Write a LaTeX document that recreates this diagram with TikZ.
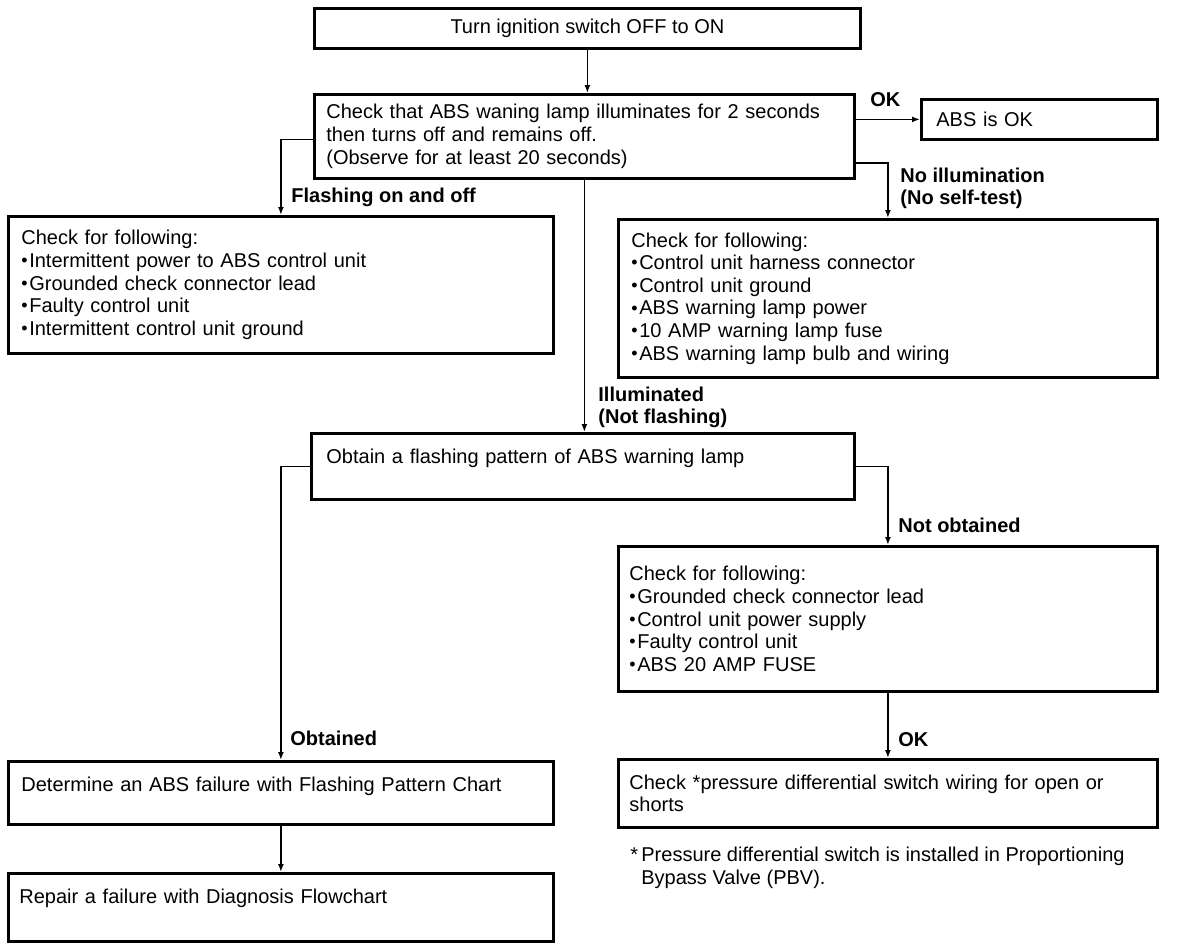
\documentclass[tikz,border=0pt]{standalone}
\usepackage{fontspec}
\setmainfont{Liberation Sans}
\usepackage{graphicx}
\usetikzlibrary{arrows.meta}
\newcommand{\itm}{\raisebox{.4pt}{\scalebox{.9}{\textbullet}}\kern.8pt}

\begin{document}
\begin{tikzpicture}[x = .5pt, y = -.5pt,
	every node/.style = {font = \fontsize{10}{11.3}\selectfont, inner sep = 0},
	box/.style = {draw, line width = 1.4pt, anchor = north west, align = left},
	lbl/.style = {font = \fontsize{10}{11}\selectfont\bfseries, align = left},
	arr/.style = {line width = .9pt, -{Latex[length = 4pt, width = 3pt]}}]
	\useasboundingbox (0,0) rectangle (1184,948);
	\node[box, minimum width = 273pt, minimum height = 20pt] (ign) at (313,7) {Turn ignition switch OFF to ON};
	\node[box, minimum width = 270pt, minimum height = 42pt, text width = 258pt, inner xsep = 6pt] (lamp) at (313,93)
		{Check that ABS waning lamp illuminates for 2 seconds\\then turns off and remains off.\\(Observe for at least 20 seconds)};
	\node[box, minimum width = 118pt, minimum height = 20pt, text width = 103pt, inner xsep = 7.5pt] (absok) at (920,98) {ABS is OK};
	\node[box, minimum width = 272.5pt, minimum height = 68.5pt, text width = 259.5pt, inner xsep = 6.5pt] (flash) at (7,215)
		{Check for following:\\\itm Intermittent power to ABS control unit\\\itm Grounded check connector lead\\\itm Faulty control unit\\\itm Intermittent control unit ground};
	\node[box, minimum width = 269.5pt, minimum height = 79pt, text width = 256.5pt, inner xsep = 6.5pt] (noillum) at (617,218)
		{Check for following:\\\itm Control unit harness connector\\\itm Control unit ground\\\itm ABS warning lamp power\\\itm 10 AMP warning lamp fuse\\\itm ABS warning lamp bulb and wiring};
	\node[box, text width = 256.5pt, inner xsep = 7.5pt, text height = 15pt, text depth = 18pt] (obtain) at (310,432)
		{Obtain a flashing pattern of ABS warning lamp};
	\node[box, minimum width = 269.5pt, minimum height = 72.5pt, text width = 258.5pt, inner xsep = 5.5pt] (notobt) at (617,545)
		{Check for following:\\\itm Grounded check connector lead\\\itm Control unit power supply\\\itm Faulty control unit\\\itm ABS 20 AMP FUSE};
	\node[box, text width = 259.5pt, inner xsep = 6.5pt, text height = 15pt, text depth = 16.5pt] (determine) at (7,760)
		{Determine an ABS failure with Flashing Pattern Chart};
	\node[box, minimum width = 269.5pt, minimum height = 34pt, text width = 258.5pt, inner xsep = 5.5pt] (pressure) at (617,758)
		{Check *pressure differential switch wiring for open or\\shorts};
	\node[box, text width = 261.5pt, inner xsep = 5.5pt, text height = 15pt, text depth = 19pt] (repair) at (7,872)
		{Repair a failure with Diagnosis Flowchart};
	\node[anchor = north west, align = left] (note) at (641,847)
		{\llap{*\,}Pressure differential switch is installed in Proportioning\\Bypass Valve (PBV).};

	\node[lbl, anchor = west] (ok1) at (870,100) {OK};
	\node[lbl, anchor = north west] (noill) at (900,168) {No illumination\\(No self-test)};
	\node[lbl, anchor = west] (flon) at (291,197) {Flashing on and off};
	\node[lbl, anchor = north west] (illum) at (598,387) {Illuminated\\(Not flashing)};
	\node[lbl, anchor = west] (nob) at (898,525) {Not obtained};
	\node[lbl, anchor = west] (ob) at (290,738) {Obtained};
	\node[lbl, anchor = west] (ok2) at (898,740) {OK};

	\draw[arr] (ign.south) -- (ign.south |- lamp.north);
	\draw[arr] (lamp.east |- absok.west) -- (absok.west);
	\draw[arr] ([yshift = 8.5pt]lamp.south east) -| (noillum.north);
	\draw[arr] ([yshift = -1.5pt]lamp.west) -| (flash.north);
	\draw[arr] (lamp.south) -- (lamp.south |- obtain.north);
	\draw[arr] (obtain.west) -| (determine.north);
	\draw[arr] (obtain.east) -| (notobt.north);
	\draw[arr] (notobt.south) -- (pressure.north);
	\draw[arr] (determine.south) -- (repair.north);
\end{tikzpicture}
\end{document}
